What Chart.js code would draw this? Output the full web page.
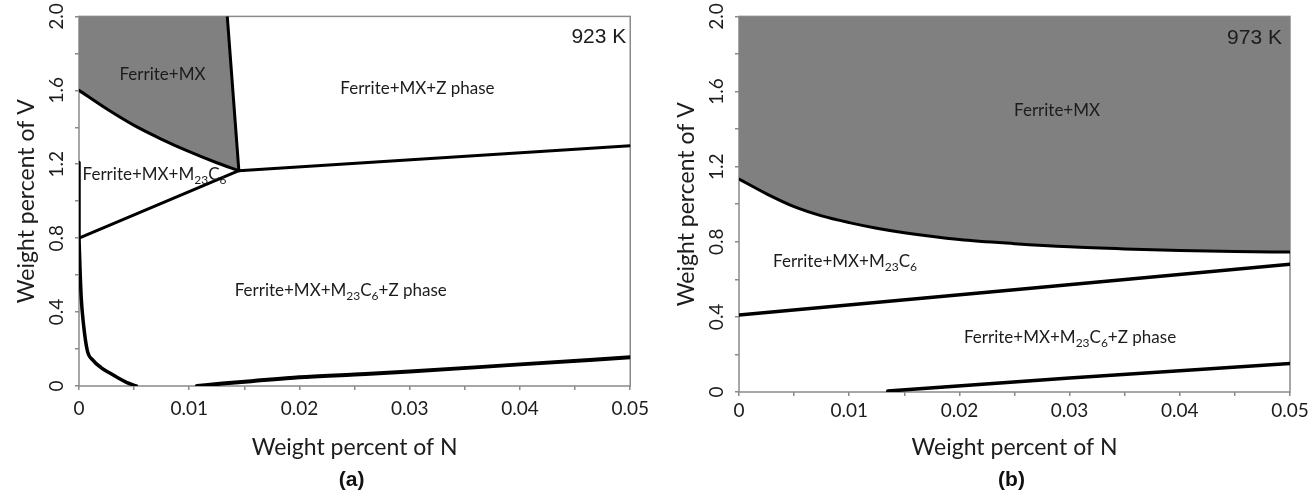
<!DOCTYPE html>
<html>
<head>
<meta charset="utf-8">
<script src="https://cdn.jsdelivr.net/npm/chart.js@4/dist/chart.umd.min.js"></script>
<style>
  html, body { margin: 0; padding: 0; background: #fff; }
  #wrap { position: relative; width: 1313px; height: 497px; overflow: hidden; }
  #wrap canvas { position: absolute; top: 0; }
</style>
</head>
<body>
<div id="wrap">
  <canvas id="panelA" width="656" height="497" style="left:0"></canvas>
  <canvas id="panelB" width="657" height="497" style="left:656px"></canvas>
</div>
<script>
// Tick labels shared by both panels (wt% N on x, wt% V on y)
const nTickLabels = ['0', '0.01', '0.02', '0.03', '0.04', '0.05'];
const vTickLabels = ['0', '0.4', '0.8', '1.2', '1.6', '2.0'];

// (a) 923 K — phase boundaries
const a_mxN = [0, 0.0025, 0.005, 0.0075, 0.01, 0.0125, 0.0145];
const a_mxV = [1.6, 1.50, 1.41, 1.335, 1.268, 1.208, 1.165];
const a_zTopN = [0.0145, 0.01345];
const a_zTopV = [1.165, 2.0];
const a_zRightN = [0.0145, 0.05];
const a_zRightV = [1.165, 1.30];
const a_m23N = [0, 0.0145];
const a_m23V = [0.8, 1.165];
const a_axisN = [0, 0];
const a_axisV = [1.21, 0.8];
const a_leftN = [0, 0.0001, 0.0002, 0.0004, 0.00075, 0.00126, 0.002, 0.0028, 0.0036, 0.0043, 0.0052];
const a_leftV = [0.8, 0.62, 0.48, 0.338, 0.193, 0.14, 0.1, 0.07, 0.042, 0.02, 0];
const a_baseN = [0.0107, 0.013, 0.016, 0.02, 0.025, 0.03, 0.04, 0.05];
const a_baseV = [0, 0.013, 0.028, 0.047, 0.062, 0.078, 0.117, 0.155];

// (b) 973 K — phase boundaries
const b_mxN = [0, 0.0025, 0.005, 0.0075, 0.01, 0.0125, 0.015, 0.02, 0.025, 0.03, 0.035, 0.04, 0.045, 0.05];
const b_mxV = [1.134, 1.055, 0.987, 0.938, 0.902, 0.872, 0.848, 0.812, 0.79, 0.773, 0.762, 0.754, 0.748, 0.745];
const b_m23N = [0, 0.025, 0.05];
const b_m23V = [0.41, 0.545, 0.68];
const b_baseN = [0.0135, 0.03, 0.05];
const b_baseV = [0.005, 0.075, 0.152];

const pts = (xs, ys) => xs.map((x, i) => ({ x, y: ys[i] }));

const GRID = '#8a8a8a';
const FILL = '#808080';
const INK = '#1c1c1c';
const SANS = 'Lato';

// Region names placed at data coordinates; "_{..}" marks a subscript
const labelsA = [
  { t: 'Ferrite+MX', n: 0.00757, v: 1.684 },
  { t: 'Ferrite+MX+Z phase', n: 0.0307, v: 1.609 },
  { t: 'Ferrite+MX+M_{23}C_{6}', n: 0.00685, v: 1.142 },
  { t: 'Ferrite+MX+M_{23}C_{6}+Z phase', n: 0.02374, v: 0.515 },
  { t: '923 K', n: 0.04964, v: 1.89, right: true, arial: true }
];
const labelsB = [
  { t: 'Ferrite+MX', n: 0.02886, v: 1.501 },
  { t: 'Ferrite+MX+M_{23}C_{6}', n: 0.00962, v: 0.693 },
  { t: 'Ferrite+MX+M_{23}C_{6}+Z phase', n: 0.03004, v: 0.289 },
  { t: '973 K', n: 0.04927, v: 1.882, right: true, arial: true }
];

function richParts(text) {
  const parts = [];
  const re = /_\{([^}]*)\}/g;
  let last = 0, m;
  while ((m = re.exec(text)) !== null) {
    if (m.index > last) parts.push({ s: text.slice(last, m.index), sub: false });
    parts.push({ s: m[1], sub: true });
    last = re.lastIndex;
  }
  if (last < text.length) parts.push({ s: text.slice(last), sub: false });
  return parts;
}

function drawRich(ctx, item, x, y) {
  const main = item.arial ? '21px "Liberation Sans"' : '17px ' + SANS;
  const small = '12px ' + SANS;
  const parts = richParts(item.t);
  let w = 0;
  parts.forEach(p => { ctx.font = p.sub ? small : main; p.w = ctx.measureText(p.s).width; w += p.w; });
  let cx = item.right ? x - w : x - w / 2;
  ctx.fillStyle = INK;
  ctx.textBaseline = 'middle';
  ctx.textAlign = 'left';
  parts.forEach(p => {
    ctx.font = p.sub ? small : main;
    ctx.fillText(p.s, cx, p.sub ? y + 5 : y);
    cx += p.w;
  });
}

const framePlugin = {
  id: 'frame',
  beforeDatasetsDraw(chart) {
    const { ctx, chartArea: a } = chart;
    ctx.save();
    ctx.strokeStyle = GRID;
    ctx.lineWidth = 1.5;
    ctx.strokeRect(a.left, a.top, a.right - a.left, a.bottom - a.top);
    ctx.restore();
  }
};

function labelPlugin(items, panel) {
  return {
    id: 'phaseLabels',
    afterDatasetsDraw(chart) {
      const { ctx, scales } = chart;
      ctx.save();
      items.forEach(it => drawRich(ctx, it, scales.x.getPixelForValue(it.n), scales.y.getPixelForValue(it.v)));
      ctx.restore();
    },
    afterDraw(chart) {
      // panel letter, centred under the plot area
      const { ctx, chartArea: a } = chart;
      ctx.save();
      ctx.font = 'bold 21px "Liberation Sans"';
      ctx.fillStyle = '#111';
      ctx.textAlign = 'center';
      ctx.textBaseline = 'middle';
      ctx.fillText(panel, (a.left + a.right) / 2 - 3, 480);
      ctx.restore();
    }
  };
}

function boundary(data, width, smooth) {
  return {
    data, borderColor: '#000', borderWidth: width || 3, pointRadius: 0,
    fill: false, tension: 0, cubicInterpolationMode: smooth ? 'monotone' : 'default',
    borderCapStyle: 'round', borderJoinStyle: 'round'
  };
}

function makeOptions(cfg) {
  const tickFont = { family: SANS, size: 19 };
  return {
    responsive: false,
    animation: false,
    events: [],
    layout: { padding: { left: 0, right: cfg.padRight, top: cfg.padTop, bottom: 30 } },
    plugins: {
      legend: { display: false },
      tooltip: { enabled: false },
      title: { display: false }
    },
    scales: {
      x: {
        type: 'linear', min: 0, max: 0.05,
        border: { display: false },
        grid: { drawOnChartArea: false, drawTicks: true, tickLength: 4, color: GRID, lineWidth: 1.5 },
        ticks: {
          stepSize: 0.005, autoSkip: false, maxRotation: 0, padding: cfg.xPad,
          font: tickFont, color: INK,
          callback: (v, i) => (i % 2 === 0 ? nTickLabels[i / 2] : '')
        },
        title: {
          display: true, text: 'Weight percent of N', color: INK,
          font: { family: SANS, size: 23 }, padding: { top: 0, bottom: 6 }
        },
        afterFit: s => { s.height = cfg.xHeight; }
      },
      y: {
        type: 'linear', min: 0, max: 2,
        border: { display: false },
        grid: { drawOnChartArea: false, drawTicks: true, tickLength: 4, color: GRID, lineWidth: 1.5 },
        ticks: {
          stepSize: 0.2, autoSkip: false, minRotation: 90, maxRotation: 90,
          crossAlign: 'center', padding: 5, font: tickFont, color: INK,
          callback: (v, i) => (i % 2 === 0 ? vTickLabels[i / 2] : '')
        },
        title: {
          display: true, text: 'Weight percent of V', color: INK,
          font: { family: SANS, size: 23 }, padding: { top: cfg.yTitlePad, bottom: 0 }
        },
        afterFit: s => { s.width = cfg.yWidth; }
      }
    }
  };
}

// Panel (a): 923 K
const mxRegionA = pts(a_mxN, a_mxV).concat(pts(a_zTopN.slice(1), a_zTopV.slice(1)), [{ x: 0, y: 2 }]);
new Chart(document.getElementById('panelA'), {
  type: 'line',
  data: {
    datasets: [
      boundary(pts(a_mxN, a_mxV), 3, true),
      boundary(pts(a_zTopN, a_zTopV)),
      boundary(pts(a_zRightN, a_zRightV)),
      boundary(pts(a_m23N, a_m23V)),
      boundary(pts(a_axisN, a_axisV), 3.5),
      boundary(pts(a_leftN, a_leftV), 3.5, true),
      boundary(pts(a_baseN, a_baseV), 4, true),
      { data: mxRegionA, borderWidth: 0, pointRadius: 0, backgroundColor: FILL, fill: 'shape', tension: 0 }
    ]
  },
  options: makeOptions({ padRight: 22, padTop: 13, xHeight: 81, xPad: 7, yWidth: 79, yTitlePad: 13 }),
  plugins: [framePlugin, labelPlugin(labelsA, '(a)')]
});

// Panel (b): 973 K
new Chart(document.getElementById('panelB'), {
  type: 'line',
  data: {
    datasets: [
      Object.assign(boundary(pts(b_mxN, b_mxV), 3, true), { fill: 'end', backgroundColor: FILL }),
      boundary(pts(b_m23N, b_m23V), 3.5),
      boundary(pts(b_baseN, b_baseV), 3.5)
    ]
  },
  options: makeOptions({ padRight: 23, padTop: 11, xHeight: 75, xPad: 3, yWidth: 83, yTitlePad: 17 }),
  plugins: [framePlugin, labelPlugin(labelsB, '(b)')]
});
</script>
</body>
</html>
